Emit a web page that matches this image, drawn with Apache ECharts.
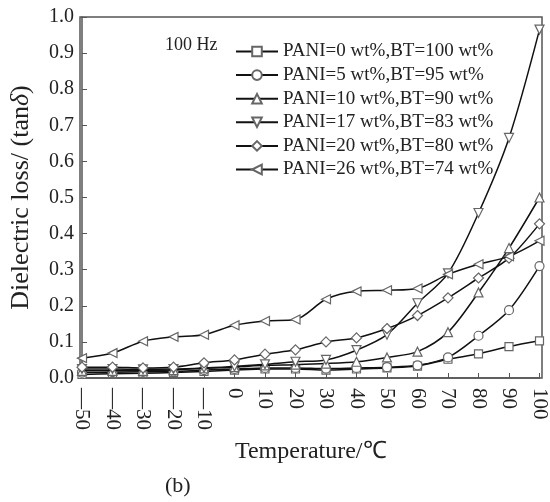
<!DOCTYPE html>
<html lang="en">
<head>
	<meta charset="utf-8">
	<title>Dielectric loss vs temperature</title>
	<script type="text/javascript" src="https://cdn.jsdelivr.net/npm/echarts@6/dist/echarts.min.js"></script>
	<style type="text/css">
		html, body { margin: 0; padding: 0; background: #fff; }
		#chartmain { width: 550px; height: 502px; }
	</style>
</head>
<body>
	<div id="chartmain"></div>
	<script type="text/javascript">
		// temperature (°C)
		var temps = [-50, -40, -30, -20, -10, 0, 10, 20, 30, 40, 50, 60, 70, 80, 90, 100];
		var yTicks = [0, 0.1, 0.2, 0.3, 0.4, 0.5, 0.6, 0.7, 0.8, 0.9, 1.0];

		var names = [
			'PANI=0 wt%,BT=100 wt%',
			'PANI=5 wt%,BT=95 wt%',
			'PANI=10 wt%,BT=90 wt%',
			'PANI=17 wt%,BT=83 wt%',
			'PANI=20 wt%,BT=80 wt%',
			'PANI=26 wt%,BT=74 wt%'
		];

		var pani0  = [0.010, 0.012, 0.013, 0.015, 0.018, 0.022, 0.025, 0.025, 0.022, 0.025, 0.028, 0.033, 0.052, 0.067, 0.087, 0.103];
		var pani5  = [0.015, 0.016, 0.017, 0.018, 0.022, 0.025, 0.028, 0.028, 0.026, 0.028, 0.030, 0.035, 0.057, 0.117, 0.188, 0.310];
		var pani10 = [0.020, 0.020, 0.020, 0.022, 0.027, 0.030, 0.035, 0.037, 0.040, 0.045, 0.057, 0.073, 0.127, 0.237, 0.360, 0.500];
		var pani17 = [0.025, 0.025, 0.024, 0.025, 0.028, 0.032, 0.038, 0.045, 0.050, 0.077, 0.120, 0.207, 0.290, 0.457, 0.665, 0.965];
		var pani20 = [0.030, 0.030, 0.028, 0.030, 0.042, 0.050, 0.066, 0.078, 0.100, 0.111, 0.137, 0.173, 0.222, 0.277, 0.332, 0.427];
		var pani26 = [0.055, 0.069, 0.102, 0.114, 0.120, 0.146, 0.158, 0.162, 0.218, 0.240, 0.243, 0.248, 0.287, 0.315, 0.337, 0.380];

		var allData = [pani0, pani5, pani10, pani17, pani20, pani26];
		var symbols = ['rect', 'circle', 'triangle', 'triangle', 'diamond', 'triangle'];
		var rotates = [0, 0, 0, 180, 0, 90];
		var sizes = [8, 9, 9, 9, 10, 9];

		var serif = "'Liberation Serif', 'Times New Roman', serif";

		var myChart = echarts.init(document.getElementById('chartmain'));

		var series = allData.map(function (vals, i) {
			return {
				name: names[i],
				type: 'line',
				smooth: 0.3,
				data: temps.map(function (t, j) { return [t, vals[j]]; }),
				symbol: symbols[i],
				symbolRotate: rotates[i],
				symbolSize: sizes[i],
				showAllSymbol: true,
				lineStyle: { color: '#111', width: 1.5 },
				itemStyle: { color: '#fff', borderColor: '#666', borderWidth: 1.2 },
				emphasis: { disabled: true },
				z: 2 + i
			};
		});

		var option = {
			animation: false,
			textStyle: { fontFamily: serif },
			grid: { left: 80, right: 8, top: 17, bottom: 124 },
			legend: {
				orient: 'vertical',
				left: 230,
				top: 37,
				itemWidth: 42,
				itemHeight: 12,
				itemGap: 4.6,
				data: names,
				textStyle: { fontFamily: serif, fontSize: 19, color: '#222', lineHeight: 19 }
			},
			xAxis: {
				type: 'value',
				min: -50,
				max: 100,
				interval: 10,
				name: 'Temperature/℃',
				nameLocation: 'middle',
				nameGap: 62,
				nameTextStyle: { fontFamily: serif, fontSize: 24, color: '#222' },
				axisLine: { onZero: false, lineStyle: { color: '#555', width: 1.5 } },
				axisTick: { inside: true, length: 5, lineStyle: { color: '#555' } },
				splitLine: { show: false },
				axisLabel: {
					rotate: -90,
					margin: 10,
					fontFamily: serif,
					fontSize: 21,
					color: '#222',
					formatter: function (v) { return String(v).replace('-', '—'); }
				}
			},
			yAxis: {
				type: 'value',
				min: yTicks[0],
				max: yTicks[yTicks.length - 1],
				interval: 0.1,
				name: 'Dielectric loss/ (tan{i|δ})',
				nameLocation: 'middle',
				nameGap: 48,
				nameTextStyle: {
					fontFamily: serif, fontSize: 26, color: '#222',
					rich: { i: { fontFamily: serif, fontSize: 26, fontStyle: 'italic', color: '#222' } }
				},
				axisLine: { onZero: false, lineStyle: { color: '#555', width: 1.5 } },
				axisTick: { inside: true, length: 5, lineStyle: { color: '#555' } },
				splitLine: { show: false },
				axisLabel: {
					margin: 8,
					fontFamily: serif,
					fontSize: 20,
					color: '#222',
					formatter: function (v) { return v.toFixed(1); }
				}
			},
			graphic: [
				{
					type: 'rect',
					shape: { x: 80, y: 17, width: 462, height: 361 },
					style: { fill: 'none', stroke: '#555', lineWidth: 1.5 },
					silent: true
				},
				{
					type: 'text',
					left: 165,
					top: 36,
					style: { text: '100 Hz', font: "18px 'Liberation Serif', serif", fill: '#222' }
				},
				{
					type: 'text',
					left: 165,
					top: 475,
					style: { text: '(b)', font: "22px 'Liberation Serif', serif", fill: '#222' }
				}
			],
			series: series
		};

		myChart.setOption(option);
	</script>
</body>
</html>
